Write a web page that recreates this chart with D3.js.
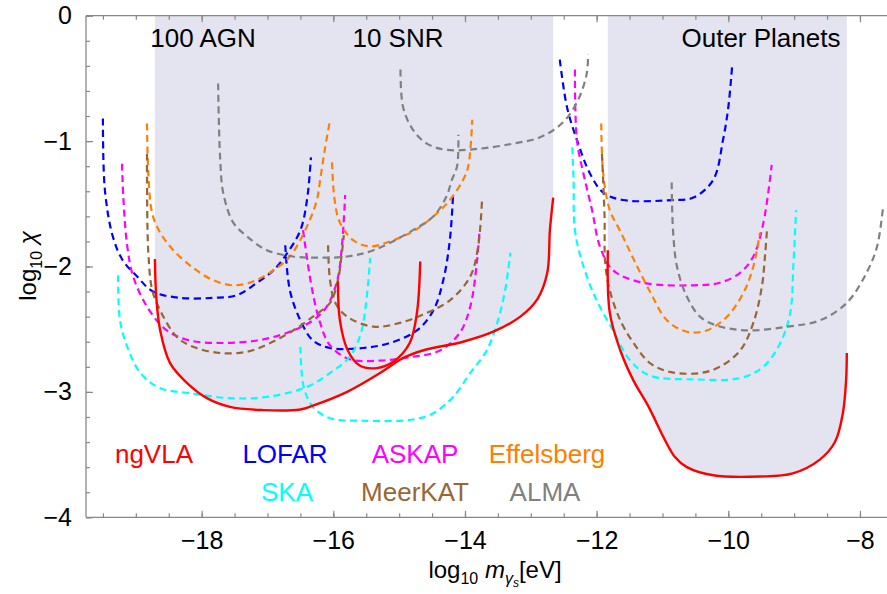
<!DOCTYPE html>
<html>
<head>
<meta charset="utf-8">
<script src="https://cdn.jsdelivr.net/npm/d3@7"></script>
<style>
  html, body { margin: 0; padding: 0; background: #fff; }
  svg { display: block; font-family: "Liberation Sans", Arial, sans-serif; }
</style>
</head>
<body>
<svg id="chart" width="887" height="594"></svg>
<script>
// ---------- DATA (log10 m [eV], log10 chi) ----------
const ngvlaA = [[-18.71,-1.94],[-18.69,-2.24],[-18.63,-2.51],[-18.48,-2.77],[-18.22,-2.93],[-17.92,-3.05],[-17.57,-3.12],[-17.07,-3.145],[-16.5,-3.14],[-16.31,-3.11],[-15.79,-3.0],[-15.29,-2.85],[-14.94,-2.73],[-14.64,-2.67],[-14.03,-2.6],[-13.57,-2.52],[-13.16,-2.4],[-12.9,-2.26],[-12.75,-2.05],[-12.71,-1.71],[-12.66,-1.45]];
const ngvlaB = [[-15.93,-2.12],[-15.9,-2.43],[-15.78,-2.67],[-15.6,-2.79],[-15.34,-2.81],[-15.09,-2.76],[-14.84,-2.61],[-14.73,-2.37],[-14.68,-1.96]];
const ngvlaC = [[-11.83,-1.87],[-11.8,-2.37],[-11.64,-2.67],[-11.44,-2.91],[-11.23,-3.1],[-10.81,-3.52],[-10.63,-3.6],[-10.23,-3.665],[-9.52,-3.675],[-9.02,-3.65],[-8.61,-3.54],[-8.38,-3.4],[-8.26,-3.17],[-8.21,-2.9],[-8.2,-2.69]];

const lofarA = [[-19.5,-0.82],[-19.47,-1.39],[-19.35,-1.76],[-19.2,-1.95],[-18.98,-2.08],[-18.74,-2.2],[-18.33,-2.25],[-17.82,-2.25],[-17.47,-2.23],[-17.16,-2.13],[-16.91,-2.03],[-16.71,-1.9],[-16.5,-1.71],[-16.4,-1.47],[-16.34,-1.13]];
const lofarB = [[-16.73,-1.83],[-16.66,-2.19],[-16.5,-2.43],[-16.31,-2.59],[-16.05,-2.65],[-15.55,-2.65],[-15.14,-2.61],[-14.73,-2.51],[-14.48,-2.35],[-14.33,-2.11],[-14.23,-1.79],[-14.18,-1.42]];
const lofarC = [[-12.56,-0.35],[-12.45,-0.73],[-12.3,-0.99],[-12.1,-1.26],[-11.9,-1.41],[-11.6,-1.47],[-10.84,-1.47],[-10.53,-1.45],[-10.23,-1.31],[-10.08,-0.99],[-10.0,-0.73],[-9.94,-0.39]];

const askapA = [[-19.21,-1.18],[-19.19,-1.45],[-19.13,-1.84],[-19.04,-2.08],[-18.83,-2.32],[-18.53,-2.51],[-18.18,-2.59],[-17.67,-2.61],[-17.16,-2.59],[-16.71,-2.53],[-16.31,-2.43],[-16.1,-2.32],[-15.94,-2.11],[-15.87,-1.84],[-15.82,-1.43]];
const askapB = [[-16.46,-1.71],[-16.32,-2.19],[-16.2,-2.45],[-16.05,-2.63],[-15.75,-2.74],[-15.29,-2.75],[-14.79,-2.72],[-14.38,-2.67],[-14.08,-2.53],[-13.92,-2.32],[-13.82,-1.97],[-13.78,-1.72]];
const askapC = [[-12.33,-0.43],[-12.3,-0.99],[-12.2,-1.26],[-12.07,-1.55],[-11.95,-1.84],[-11.75,-2.03],[-11.29,-2.13],[-10.53,-2.15],[-10.13,-2.13],[-9.82,-2.05],[-9.62,-1.92],[-9.47,-1.66],[-9.34,-1.19]];

const effelsbergA = [[-18.83,-0.86],[-18.81,-1.26],[-18.75,-1.58],[-18.63,-1.73],[-18.43,-1.87],[-18.13,-2.01],[-17.82,-2.11],[-17.52,-2.15],[-17.22,-2.12],[-16.91,-2.03],[-16.66,-1.92],[-16.4,-1.68],[-16.25,-1.47],[-16.2,-1.31],[-16.13,-1.07],[-16.05,-0.83]];
const effelsbergB = [[-16.02,-1.17],[-15.98,-1.47],[-15.9,-1.65],[-15.7,-1.79],[-15.44,-1.84],[-15.14,-1.8],[-14.79,-1.72],[-14.48,-1.6],[-14.23,-1.47],[-14.03,-1.31],[-13.95,-1.2],[-13.89,-0.83]];
const effelsbergC = [[-11.93,-0.86],[-11.9,-1.26],[-11.8,-1.55],[-11.64,-1.72],[-11.44,-1.94],[-11.19,-2.2],[-10.93,-2.43],[-10.63,-2.52],[-10.33,-2.51],[-10.02,-2.4],[-9.77,-2.21],[-9.62,-2.0],[-9.52,-1.73]];

const skaA = [[-19.27,-2.07],[-19.24,-2.43],[-19.13,-2.64],[-18.93,-2.85],[-18.63,-2.97],[-18.18,-3.01],[-17.57,-3.05],[-17.01,-3.04],[-16.4,-2.96],[-16.0,-2.83],[-15.75,-2.72],[-15.57,-2.51],[-15.44,-1.93]];
const skaB = [[-16.5,-2.64],[-16.45,-2.96],[-16.31,-3.12],[-16.05,-3.21],[-15.55,-3.23],[-14.79,-3.22],[-14.48,-3.17],[-14.18,-3.04],[-13.92,-2.85],[-13.67,-2.67],[-13.51,-2.45],[-13.39,-2.19],[-13.31,-1.89]];
const skaC = [[-12.37,-1.05],[-12.35,-1.31],[-12.33,-1.71],[-12.2,-2.0],[-12.0,-2.27],[-11.75,-2.51],[-11.49,-2.75],[-11.19,-2.87],[-10.53,-2.9],[-9.82,-2.89],[-9.47,-2.8],[-9.21,-2.61],[-9.06,-2.37],[-9.01,-1.97],[-8.97,-1.55]];

const meerkatA = [[-18.83,-1.1],[-18.83,-1.31],[-18.81,-1.89],[-18.75,-2.19],[-18.63,-2.35],[-18.38,-2.56],[-18.13,-2.64],[-17.72,-2.69],[-17.31,-2.68],[-16.96,-2.61],[-16.61,-2.51],[-16.31,-2.4],[-16.05,-2.29],[-15.93,-2.11],[-15.87,-1.89],[-15.84,-1.75]];
const meerkatB = [[-16.08,-1.83],[-16.05,-2.11],[-15.97,-2.29],[-15.79,-2.4],[-15.39,-2.48],[-14.99,-2.45],[-14.58,-2.37],[-14.23,-2.27],[-13.92,-2.08],[-13.8,-1.84],[-13.74,-1.46]];
const meerkatC = [[-11.92,-1.1],[-11.88,-1.6],[-11.87,-1.97],[-11.8,-2.19],[-11.64,-2.43],[-11.44,-2.61],[-11.19,-2.77],[-10.89,-2.84],[-10.43,-2.85],[-10.13,-2.8],[-9.82,-2.67],[-9.62,-2.45],[-9.49,-2.16],[-9.44,-1.9],[-9.41,-1.69]];

const almaA = [[-17.75,-0.54],[-17.72,-1.13],[-17.67,-1.42],[-17.52,-1.65],[-17.31,-1.76],[-17.01,-1.87],[-16.61,-1.92],[-16.2,-1.93],[-15.79,-1.92],[-15.39,-1.87],[-14.79,-1.71],[-14.48,-1.6],[-14.28,-1.44],[-14.2,-1.31],[-14.12,-1.2],[-14.1,-0.95]];
const almaB = [[-14.98,-0.43],[-14.94,-0.73],[-14.79,-0.91],[-14.58,-1.02],[-14.28,-1.07],[-13.77,-1.06],[-13.27,-1.02],[-12.86,-0.97],[-12.51,-0.85],[-12.28,-0.67],[-12.15,-0.46],[-12.13,-0.31]];
const almaC = [[-10.86,-1.33],[-10.84,-1.71],[-10.78,-2.0],[-10.63,-2.24],[-10.43,-2.4],[-10.18,-2.47],[-9.72,-2.51],[-9.11,-2.48],[-8.61,-2.43],[-8.2,-2.29],[-7.9,-2.05],[-7.74,-1.84],[-7.65,-1.53]];

const xMajorTicks = [-18, -16, -14, -12, -10, -8];
const yMajorTicks = [-4, -3, -2, -1, 0];
const regionLabels = ["100 AGN", "10 SNR", "Outer Planets"];
const legendNames = ["ngVLA", "LOFAR", "ASKAP", "Effelsberg", "SKA", "MeerKAT", "ALMA"];

// ---------- LAYOUT ----------
const svg = d3.select("#chart");
const x = d3.scaleLinear().domain([-19.757, -7.5]).range([86, 86 + 12.257 * 65.83]);
const y = d3.scaleLinear().domain([-4, 0]).range([517.3, 15.7]);
const colors = {
  ngVLA: "#ff0000", LOFAR: "#0000ff", ASKAP: "#ff00ff", Effelsberg: "#ff8000",
  SKA: "#00ffff", MeerKAT: "#996633", ALMA: "#808080"
};
const shade = "#e4e4f0";
const frameColor = "#888888";

svg.append("defs").append("clipPath").attr("id", "plotclip")
  .append("rect").attr("x", 86).attr("y", 15.7).attr("width", 820).attr("height", 501.6);

const plot = svg.append("g").attr("clip-path", "url(#plotclip)");

// shaded regions: between the ngVLA curve and the top of the plot
function shadePoly(curve) {
  const pts = curve.map(d => [x(d[0]), y(d[1])]);
  const ln = d3.line().curve(d3.curveCatmullRom)(pts);
  const first = pts[0], last = pts[pts.length - 1];
  return `M${first[0]},${y(0)}L` + ln.slice(1) + `L${last[0]},${y(0)}Z`;
}
plot.append("path").attr("d", shadePoly(ngvlaA)).attr("fill", shade);
plot.append("path").attr("d", shadePoly(ngvlaC)).attr("fill", shade);

const line = d3.line().x(d => x(d[0])).y(d => y(d[1])).curve(d3.curveCatmullRom);

const dashed = [
  ["LOFAR", [lofarA, lofarB, lofarC]],
  ["ASKAP", [askapA, askapB, askapC]],
  ["Effelsberg", [effelsbergA, effelsbergB, effelsbergC]],
  ["SKA", [skaA, skaB, skaC]],
  ["MeerKAT", [meerkatA, meerkatB, meerkatC]],
  ["ALMA", [almaA, almaB, almaC]]
];
dashed.forEach(([name, curves]) => {
  curves.forEach(c => {
    plot.append("path").attr("d", line(c)).attr("fill", "none")
      .attr("stroke", colors[name]).attr("stroke-width", 2.2)
      .attr("stroke-dasharray", "7,4.5");
  });
});
[ngvlaA, ngvlaB, ngvlaC].forEach(c => {
  plot.append("path").attr("d", line(c)).attr("fill", "none")
    .attr("stroke", colors.ngVLA).attr("stroke-width", 2.4);
});

// ---------- FRAME & AXES ----------
const fs = 25;
const xMinor = d3.range(-19.5, -7.4, 0.5);
const yMinor = d3.range(-4, 0.01, 0.2);

function styleAxis(g) {
  g.selectAll(".domain").remove();
  g.selectAll(".tick line").attr("stroke", frameColor).attr("stroke-width", 1.2);
  g.selectAll("text").attr("fill", "#000").style("font-size", fs + "px")
    .style("font-family", "'Liberation Sans', Arial, sans-serif");
}
// bottom
svg.append("g").attr("transform", `translate(0,${y(-4)})`)
  .call(d3.axisBottom(x).tickValues(xMinor).tickSize(-4).tickFormat(""))
  .call(styleAxis);
svg.append("g").attr("transform", `translate(0,${y(-4)})`)
  .call(d3.axisBottom(x).tickValues(xMajorTicks).tickSize(-6.5).tickPadding(14).tickFormat(d3.format("d")))
  .call(styleAxis);
// top
svg.append("g").attr("transform", `translate(0,${y(0)})`)
  .call(d3.axisTop(x).tickValues(xMinor).tickSize(-4).tickFormat(""))
  .call(styleAxis);
svg.append("g").attr("transform", `translate(0,${y(0)})`)
  .call(d3.axisTop(x).tickValues(xMajorTicks).tickSize(-6.5).tickFormat(""))
  .call(styleAxis);
// left
svg.append("g").attr("transform", `translate(${x.range()[0]},0)`)
  .call(d3.axisLeft(y).tickValues(yMinor).tickSize(-4).tickFormat(""))
  .call(styleAxis);
svg.append("g").attr("transform", `translate(${x.range()[0]},0)`)
  .call(d3.axisLeft(y).tickValues(yMajorTicks).tickSize(-7).tickPadding(14).tickFormat(d3.format("d")))
  .call(styleAxis);

// frame lines
svg.append("line").attr("x1", 86).attr("x2", 887).attr("y1", y(-4)).attr("y2", y(-4))
  .attr("stroke", frameColor).attr("stroke-width", 1.3);
svg.append("line").attr("x1", 86).attr("x2", 887).attr("y1", y(0)).attr("y2", y(0))
  .attr("stroke", frameColor).attr("stroke-width", 1.3);
svg.append("line").attr("x1", 86).attr("x2", 86).attr("y1", y(0)).attr("y2", y(-4))
  .attr("stroke", frameColor).attr("stroke-width", 1.3);

// ---------- REGION LABELS ----------
const lfs = 26;
const regionPos = [[203, 47], [398, 47], [761, 47]];
regionLabels.forEach((t, i) => {
  svg.append("text").attr("x", regionPos[i][0]).attr("y", regionPos[i][1])
    .attr("text-anchor", "middle").style("font-size", lfs + "px").attr("fill", "#000").text(t);
});

// ---------- LEGEND ----------
const legendPos = [[154, 463], [285, 463], [415, 463], [547, 463], [287, 501], [415, 501], [545, 501]];
legendNames.forEach((n, i) => {
  svg.append("text").attr("x", legendPos[i][0]).attr("y", legendPos[i][1])
    .attr("text-anchor", "middle").style("font-size", lfs + "px").attr("fill", colors[n]).text(n);
});

// ---------- AXIS TITLES ----------
const xt = svg.append("text").attr("x", 495).attr("y", 578).attr("text-anchor", "middle")
  .style("font-size", "24px").attr("fill", "#000");
xt.append("tspan").text("log");
xt.append("tspan").attr("dy", 6).style("font-size", "16px").text("10");
xt.append("tspan").attr("dy", -6).text(" ");
xt.append("tspan").style("font-style", "italic").text("m");
xt.append("tspan").attr("dy", 6).style("font-size", "16px").style("font-style", "italic").text("γ");
xt.append("tspan").attr("dy", 3).style("font-size", "12px").style("font-style", "italic").text("s");
xt.append("tspan").attr("dy", -9).text("[eV]");

const yt = svg.append("text").attr("transform", "translate(36,266) rotate(-90)")
  .attr("text-anchor", "middle").style("font-size", "24px").attr("fill", "#000");
yt.append("tspan").text("log");
yt.append("tspan").attr("dy", 6).style("font-size", "16px").text("10");
yt.append("tspan").attr("dy", -6).text(" ");
yt.append("tspan").style("font-style", "italic").text("χ");
</script>
</body>
</html>
